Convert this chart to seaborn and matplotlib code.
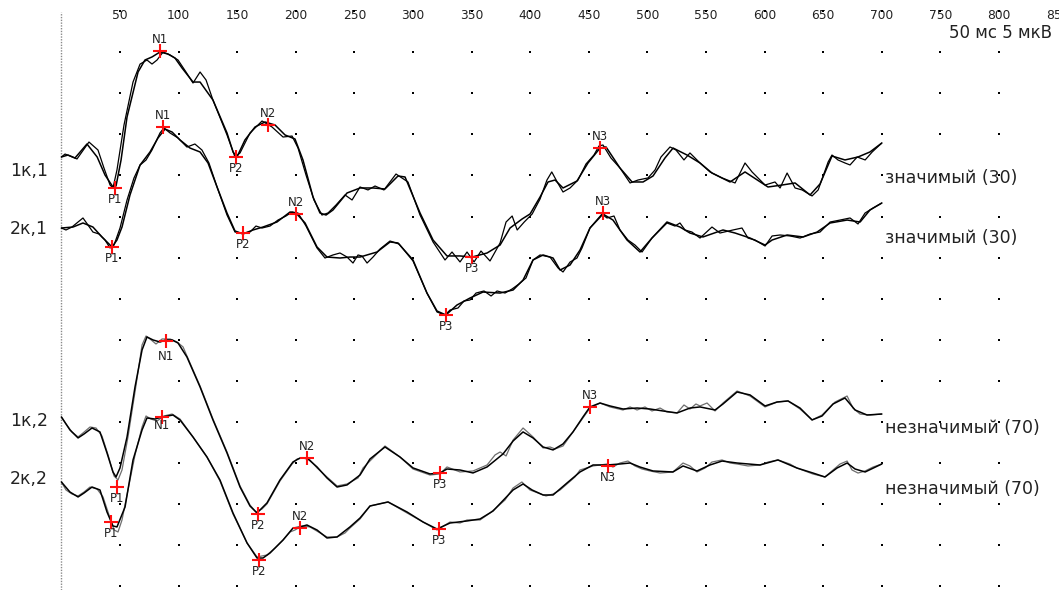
import numpy as np
import matplotlib
matplotlib.use("Agg")
import matplotlib.pyplot as plt
import seaborn as sns

# ---------------------------------------------------------------
# Averaged evoked potentials, time in ms, amplitude in µV
# (negativity plotted upwards). Each channel has two overlaid
# averages: a smoothed one ("a") and a raw one ("b").
# ---------------------------------------------------------------
ch_1k1_a = [(0, 0), (5.6, -0.24), (11.6, 0.12), (21.8, -1.58), (30.5, 0), (37.2, 2.19), (44.0, 3.65),
            (46.6, 3.53), (50.9, 0.36), (56.0, -4.87), (65.4, -10.34), (71.3, -11.8), (77.3, -12.17),
            (84.1, -12.77), (90.9, -12.53), (96.9, -12.04), (102.9, -10.83), (112.3, -9.12), (118.3, -9.12),
            (129.3, -6.93), (141.3, -2.92), (146.5, -0.6), (149.8, 0), (156.6, -2.07), (165.2, -3.65),
            (173.7, -4.26), (182.3, -3.89), (190.8, -2.68), (199.3, -2.19), (206.1, 0.36), (214.7, 4.87),
            (220.6, 6.81), (225.8, 7.06), (231.7, 6.45), (243.7, 4.38), (254.8, 3.77), (265.9, 3.77),
            (276.1, 3.89), (287.2, 2.31), (293.2, 2.43), (306.0, 6.81), (317.1, 10.10), (329.0, 12.04),
            (340.1, 12.04), (350.4, 12.17), (363.2, 11.68), (374.3, 10.71), (382.8, 8.64), (393.1, 7.54),
            (399.9, 6.93), (408.4, 4.87), (415.2, 3.04), (421.2, 2.8), (428.0, 3.77), (439.9, 2.92),
            (449.3, 0.73), (459.6, -1.09), (464.7, -1.22), (476.6, 1.34), (486.9, 3.04), (496.3, 3.04),
            (504.8, 2.31), (515.0, 0.12), (521.9, -1.09), (533.8, -0.24), (544.9, 0.73), (555.1, 1.95),
            (570.5, 3.04), (583.3, 1.82), (602.9, 3.65), (614.9, 3.41), (626.0, 3.16), (638.8, 4.62),
            (647.3, 3.28), (657.5, -0.12), (668.6, 0.36), (679.7, 0), (689.9, -0.61), (700, -1.70)]
ch_1k1_b = [(0, 0), (3.1, -0.36), (7.3, -0.12), (13.3, 0.24), (23.5, -1.82), (31.2, -0.85), (36.3, 1.34),
            (41.5, 3.41), (44.0, 3.77), (47.4, 1.58), (53.4, -3.89), (61.1, -9.12), (67.1, -11.3),
            (73.0, -11.8), (77.3, -11.31), (81.6, -11.8), (86.7, -12.77), (92.7, -12.41), (99.5, -11.8),
            (106.3, -10.34), (112.3, -9.0), (118.3, -10.34), (123.4, -9.37), (129.3, -6.93), (141.3, -2.68),
            (148.1, 0), (152.4, -0.49), (160.9, -2.92), (171.2, -4.38), (179.7, -3.65), (189.1, -2.43),
            (196.8, -2.55), (201.9, -1.09), (208.7, 2.19), (215.5, 5.23), (222.3, 7.06), (227.5, 6.81),
            (234.3, 5.84), (242.0, 4.62), (248.0, 5.23), (254.8, 3.65), (261.6, 4.01), (267.6, 3.53),
            (275.2, 4.01), (285.5, 2.07), (295.7, 3.04), (306.0, 7.06), (317.1, 10.34), (327.3, 12.53),
            (333.3, 11.56), (340.1, 12.77), (346.1, 11.56), (352.1, 12.77), (358.0, 11.44), (365.7, 12.65),
            (374.3, 10.46), (379.4, 7.91), (384.6, 7.18), (388.9, 8.88), (394.9, 7.91), (401.7, 6.93),
            (408.4, 5.11), (414.3, 2.8), (418.4, 1.82), (423.5, 3.16), (428.0, 4.26), (434.0, 3.77),
            (440.8, 2.8), (447.6, 0.85), (454.4, -0.24), (458.7, -1.34), (462.1, -1.46), (468.9, 0.12),
            (476.6, 1.34), (485.2, 3.16), (492.0, 2.8), (500.5, 2.55), (506.5, 1.58), (511.6, 0),
            (519.3, -1.22), (524.4, -0.85), (531.2, 0.36), (536.3, -0.49), (544.9, 0.73), (553.4, 1.82),
            (563.7, 2.55), (574.8, 3.16), (583.3, 0.73), (589.3, 1.82), (600.4, 3.41), (608.9, 3.04),
            (613.2, 3.77), (619.2, 1.95), (626.0, 3.77), (632.0, 4.01), (640.5, 4.74), (645.7, 4.01),
            (654.2, 0.61), (657.5, -0.24), (662.6, 0.36), (668.6, 0.73), (672.9, 0.97), (679.0, 0),
            (685.8, 0.36), (691.8, -0.61), (700, -1.70)]

ch_2k1_a = [(0, 0), (9.9, -0.12), (18.4, -0.61), (26.9, -0.12), (34.6, 1.09), (43.2, 2.31), (47.4, 1.46),
            (51.7, -0.12), (58.5, -4.01), (67.1, -7.66), (75.6, -9.25), (82.4, -10.95), (88.4, -12.04),
            (94.4, -11.68), (101.2, -10.71), (109.7, -9.73), (118.3, -9.25), (125.1, -7.91), (132.8, -4.99),
            (141.3, -1.82), (148.1, 0.36), (154.9, 0.73), (163.5, 0.24), (172.0, -0.12), (183.9, -0.73),
            (195.1, -1.95), (200.2, -1.82), (207.9, -0.61), (218.1, 2.31), (226.6, 3.53), (237.7, 3.65),
            (246.2, 3.53), (254.8, 3.53), (269.3, 2.92), (280.4, 1.70), (287.2, 1.82), (300.0, 3.89),
            (311.9, 7.91), (320.5, 10.10), (328.1, 10.58), (337.5, 9.37), (348.6, 8.52), (359.7, 7.79),
            (374.3, 7.91), (385.4, 7.54), (393.9, 6.33), (402.4, 3.89), (411.0, 3.28), (419.5, 3.65),
            (425.5, 5.11), (434.0, 4.50), (442.5, 2.68), (451.0, 0), (462.1, -1.70), (470.6, -0.97),
            (482.6, 1.46), (493.7, 2.92), (503.9, 1.22), (516.7, -0.73), (527.8, -0.12), (536.3, 0.61),
            (547.4, 1.09), (564.5, 0.24), (574.8, 0.61), (587.6, 1.22), (600.4, 2.07), (606.4, 1.46),
            (619.2, 0.85), (632.9, 1.09), (644.8, 0.49), (655.9, -0.61), (670.4, -0.97), (681.5, -0.73),
            (689.9, -2.19), (700, -3.04)]
ch_2k1_b = [(0, 0), (3.9, 0.24), (9.0, -0.12), (14.2, -0.73), (18.4, -1.22), (22.7, -0.36), (26.9, 0.49),
            (32.1, 0.73), (37.2, 1.46), (41.5, 2.43), (44.9, 2.07), (50.0, 0), (56.0, -3.41), (61.9, -6.08),
            (67.1, -7.66), (72.2, -8.27), (77.3, -9.49), (84.1, -11.56), (87.5, -12.17), (92.7, -11.56),
            (99.5, -10.95), (107.1, -9.85), (113.9, -10.22), (119.9, -9.49), (125.9, -7.91), (132.8, -4.99),
            (141.3, -1.58), (148.1, 0.49), (154.9, 0.61), (160.9, 0.49), (166.0, -0.24), (171.2, 0),
            (178.0, -0.24), (184.8, -0.97), (191.6, -1.46), (196.8, -1.95), (201.9, -1.82), (208.7, -0.24),
            (218.1, 2.43), (224.9, 3.65), (231.7, 3.28), (237.7, 3.04), (243.7, 3.53), (248.8, 4.26),
            (253.1, 3.28), (256.5, 3.41), (260.8, 4.26), (265.9, 3.53), (271.9, 2.55), (280.4, 1.58),
            (288.1, 1.95), (300.0, 4.01), (311.9, 7.91), (320.5, 10.22), (327.3, 10.58), (331.6, 9.98),
            (338.4, 9.73), (343.5, 8.88), (348.6, 8.76), (353.8, 7.91), (360.6, 7.66), (366.6, 8.27),
            (371.7, 7.66), (378.5, 7.91), (384.5, 7.42), (390.4, 6.81), (396.4, 6.08), (402.4, 3.89),
            (408.4, 3.28), (416.9, 3.53), (423.8, 4.87), (428.0, 5.35), (434.0, 4.14), (439.9, 3.65),
            (444.2, 2.43), (451.0, 0), (461.2, -1.70), (465.5, -1.22), (471.5, -1.46), (476.6, 0.24),
            (483.4, 1.46), (489.4, 2.07), (495.4, 2.92), (503.9, 1.22), (516.7, -0.61), (523.5, -0.24),
            (527.8, -0.61), (532.1, 0.24), (538.0, 0.49), (544.9, 1.22), (555.1, -0.12), (561.9, 0.61),
            (573.0, 0.24), (580.7, 0), (585.8, 1.22), (591.8, 1.46), (600.4, 2.19), (606.4, 0.97),
            (613.2, 0.85), (621.8, 0.97), (630.3, 1.22), (638.8, 0.73), (647.3, 0.49), (655.9, -0.73),
            (664.4, -0.97), (672.9, -1.22), (679.7, -0.49), (685.7, -1.82), (692.5, -2.43), (700, -3.04)]

ch_1k2_a = [(0, 0), (7.3, 1.58), (14.2, 2.55), (19.3, 2.07), (26.1, 1.34), (32.9, 1.82), (38.9, 4.38),
            (44.0, 6.69), (46.6, 7.30), (50.0, 6.20), (56.0, 2.43), (62.8, -3.65), (68.8, -8.15),
            (73.0, -9.73), (78.2, -9.37), (84.1, -9.12), (89.2, -9.37), (94.4, -9.37), (99.5, -9.0),
            (107.1, -7.30), (118.3, -3.65), (129.3, 0.36), (141.3, 4.38), (152.4, 8.52), (160.9, 10.83),
            (166.9, 11.68), (175.4, 10.46), (186.5, 7.66), (197.6, 5.47), (203.6, 4.99), (209.5, 4.99),
            (218.1, 6.08), (226.6, 7.42), (235.2, 8.52), (243.7, 8.27), (254.8, 7.06), (263.3, 5.11),
            (276.1, 3.65), (288.9, 4.87), (300.0, 6.20), (314.5, 6.93), (323.0, 6.81), (329.0, 6.33),
            (340.1, 6.45), (351.2, 6.81), (363.2, 6.08), (376.8, 4.50), (385.4, 2.92), (393.9, 1.82),
            (402.4, 2.55), (411.0, 3.65), (419.5, 4.01), (428.0, 3.28), (436.5, 1.82), (445.0, 0),
            (451.0, -1.22), (459.6, -1.70), (468.1, -1.34), (479.2, -0.97), (491.2, -1.09), (502.3, -0.97),
            (513.3, -0.73), (525.3, -0.49), (536.4, -1.09), (544.9, -1.22), (557.7, -0.85), (564.5, -1.58),
            (576.5, -3.04), (587.6, -2.68), (600.4, -1.34), (610.6, -1.82), (620.0, -1.95), (630.2, -1.09),
            (640.5, 0.36), (649.0, -0.12), (658.4, -1.58), (668.6, -2.31), (677.2, -0.85), (687.4, -0.24),
            (700, -0.36)]
ch_1k2_b = [(0, 0), (3.9, 0.85), (9.0, 1.82), (14.2, 2.43), (18.4, 1.95), (24.4, 1.22), (29.5, 1.34),
            (34.6, 2.31), (39.8, 4.62), (44.9, 7.18), (48.3, 7.66), (51.7, 6.45), (56.8, 2.43), (63.7, -3.89),
            (68.8, -8.76), (72.2, -9.85), (75.6, -9.49), (80.7, -8.88), (85.9, -9.49), (92.7, -9.49),
            (98.7, -9.12), (103.8, -8.52), (109.7, -6.57), (118.3, -3.77), (129.3, 0.24), (141.3, 4.26),
            (152.4, 8.39), (160.9, 10.71), (166.0, 11.56), (171.2, 11.19), (175.4, 10.58), (186.5, 7.79),
            (196.8, 5.72), (201.1, 5.11), (206.1, 4.99), (212.1, 5.23), (218.1, 6.20), (226.6, 7.30),
            (235.2, 8.39), (243.7, 8.15), (253.1, 7.42), (257.4, 6.20), (263.3, 5.35), (276.1, 3.53),
            (288.9, 4.87), (300.0, 6.33), (314.5, 7.06), (323.0, 6.93), (329.0, 6.08), (340.1, 6.69),
            (351.2, 6.57), (363.2, 5.84), (370.0, 4.62), (374.3, 4.26), (379.4, 4.74), (385.4, 2.80),
            (393.9, 1.34), (402.4, 2.43), (411.0, 3.77), (416.9, 3.65), (421.2, 3.89), (428.0, 3.53),
            (436.5, 1.82), (445.0, 0.12), (451.0, -1.09), (459.6, -1.70), (468.1, -1.22), (479.2, -0.85),
            (485.2, -1.22), (491.2, -0.85), (497.9, -1.22), (503.9, -0.73), (510.8, -1.09), (516.7, -0.61),
            (525.3, -0.49), (531.2, -1.46), (536.3, -0.97), (541.4, -1.58), (544.9, -1.34), (550.9, -1.70),
            (557.7, -0.73), (564.5, -1.70), (576.5, -3.16), (587.6, -2.55), (600.4, -1.22), (610.6, -1.82),
            (620.0, -1.95), (630.2, -0.97), (640.5, 0.36), (649.0, -0.24), (660.1, -1.82), (670.4, -2.55),
            (675.4, -1.09), (681.4, -0.36), (689.9, -0.24), (700, -0.36)]

ch_2k2_a = [(0, 0), (7.3, 1.22), (14.2, 1.82), (19.3, 1.34), (26.1, 0.61), (32.9, 0.97), (38.9, 3.65),
            (44.0, 5.35), (47.4, 5.47), (54.3, 3.04), (61.1, -2.68), (68.8, -6.33), (73.0, -7.79),
            (79.9, -7.66), (85.9, -7.91), (95.2, -8.15), (101.2, -7.54), (112.3, -5.47), (124.2, -3.04),
            (135.3, -0.24), (146.4, 3.77), (158.4, 7.42), (166.9, 9.25), (172.0, 9.25), (178.0, 8.64),
            (189.1, 7.06), (197.6, 5.60), (203.6, 5.47), (209.5, 5.23), (218.1, 5.84), (226.6, 6.81),
            (235.2, 6.69), (246.2, 5.47), (254.8, 4.38), (263.3, 2.92), (278.7, 2.43), (294.9, 3.65),
            (308.6, 4.87), (320.5, 5.72), (331.6, 4.99), (346.1, 4.74), (357.2, 4.50), (368.3, 3.53),
            (385.4, 0.97), (393.9, 0.24), (401.6, 0.97), (411.0, 1.58), (419.5, 1.58), (431.4, 0.12),
            (442.5, -1.22), (453.6, -2.07), (465.6, -2.07), (476.6, -2.19), (485.2, -2.31), (493.7, -1.82),
            (504.8, -1.34), (521.8, -1.22), (530.4, -1.95), (542.3, -1.34), (553.4, -2.07), (563.7, -2.55),
            (576.5, -2.31), (596.1, -2.07), (611.4, -2.68), (627.6, -1.70), (641.3, -1.09), (651.5, -0.61),
            (661.8, -1.70), (670.4, -2.31), (677.2, -1.58), (685.8, -1.22), (700, -2.19)]
ch_2k2_b = [(0, 0), (3.9, 0.97), (9.0, 1.46), (14.2, 1.70), (19.3, 1.22), (24.4, 0.61), (30.4, 0.85),
            (35.5, 1.82), (40.6, 4.01), (44.9, 5.84), (48.3, 6.08), (51.7, 4.62), (56.8, 0.97), (62.8, -3.28),
            (68.8, -6.69), (72.2, -8.03), (76.4, -7.66), (81.6, -7.42), (87.5, -8.03), (94.4, -8.27),
            (101.2, -7.66), (112.3, -5.47), (124.2, -3.04), (135.3, -0.12), (146.4, 3.89), (158.4, 7.42),
            (166.9, 9.12), (171.2, 9.0), (175.4, 8.88), (182.3, 8.03), (189.1, 7.06), (195.1, 6.08),
            (199.3, 5.84), (205.2, 5.35), (212.1, 5.47), (219.3, 6.08), (226.6, 6.69), (235.2, 6.69),
            (242.0, 6.20), (246.2, 5.60), (254.8, 4.50), (263.3, 2.92), (278.7, 2.43), (294.9, 3.77),
            (308.6, 4.87), (320.5, 5.84), (331.6, 4.87), (340.1, 4.99), (346.1, 4.62), (357.2, 4.62),
            (365.7, 3.77), (370.8, 3.16), (378.5, 2.19), (385.4, 0.73), (392.9, 0), (399.8, 0.97),
            (406.7, 1.34), (413.5, 1.70), (419.5, 1.46), (425.5, 0.97), (431.4, 0.24), (438.2, -0.61),
            (442.5, -1.46), (453.6, -1.95), (465.6, -2.19), (470.6, -1.82), (476.6, -2.31), (483.4, -2.55),
            (489.4, -1.95), (495.4, -1.58), (502.3, -1.34), (510.8, -1.09), (521.8, -1.22), (530.4, -2.31),
            (536.3, -1.95), (542.3, -1.22), (549.2, -1.70), (555.1, -2.43), (563.7, -2.68), (570.5, -2.31),
            (576.5, -2.19), (585.8, -1.95), (596.1, -2.07), (602.9, -2.43), (611.4, -2.68), (621.6, -2.19),
            (627.6, -1.70), (641.3, -0.97), (651.5, -0.61), (658.4, -1.46), (664.4, -2.19), (670.4, -2.55),
            (674.6, -1.46), (679.7, -1.09), (685.8, -1.34), (692.5, -1.82), (700, -2.19)]

# Marked components: (name, latency ms, amplitude µV, label side)
peaks_1k1 = [("P1", 45.9, 3.77, "below"), ("N1", 84.1, -12.9, "above"), ("P2", 149.0, 0.0, "below"),
             ("N2", 176.3, -3.89, "above"), ("P3", 350.4, 12.17, "below"), ("N3", 459.6, -1.09, "above")]
peaks_2k1 = [("P1", 43.2, 2.31, "below"), ("N1", 86.9, -12.23, "above"), ("P2", 154.9, 0.61, "below"),
             ("N2", 200.2, -1.70, "above"), ("P3", 328.2, 10.58, "below"), ("N3", 462.1, -1.82, "above")]
peaks_1k2 = [("P1", 47.4, 8.52, "below"), ("N1", 89.2, -9.25, "below"), ("P2", 167.7, 11.80, "below"),
             ("N2", 209.5, 4.99, "above"), ("P3", 323.0, 6.81, "below"), ("N3", 451.0, -1.22, "above")]
peaks_2k2 = [("P1", 42.3, 4.87, "below"), ("N1", 85.8, -7.91, "below"), ("P2", 168.6, 9.49, "below"),
             ("N2", 203.6, 5.60, "above"), ("P3", 322.2, 5.72, "below"), ("N3", 466.4, -1.95, "below")]

channel_names = ["1к,1", "2к,1", "1к,2", "2к,2"]
verdicts = ["значимый (30)", "значимый (30)", "незначимый (70)", "незначимый (70)"]
tick_ms = list(range(50, 851, 50))
scale_text = "50 мс 5 мкВ"

# ---------------------------------------------------------------
# Layout: vertical offsets of each channel (µV, grid rows every 5 µV)
# ---------------------------------------------------------------
offsets = [17.76, 26.40, 49.39, 57.30]
name_y = [19.46, 26.52, 49.88, 56.93]
verdict_y = [20.32, 27.62, 50.73, 58.15]
raw_colors = ["black", "black", "#6e6e6e", "#6e6e6e"]

sns.set_style("white")
plt.rcParams["font.family"] = ["DejaVu Sans"]

fig = plt.figure(figsize=(10.59, 5.90), dpi=100)
ax = fig.add_axes([0, 0, 1, 1])
ax.set_xlim(-52.4, 851.2)
ax.set_ylim(70.44, -1.34)
for s in ax.spines.values():
    s.set_visible(False)

# dotted grid: one dot per 50 ms x 5 µV
gx, gy = np.meshgrid(np.arange(50, 801, 50), np.arange(0, 71, 5))
ax.scatter(gx.ravel(), gy.ravel(), marker="s", s=2.0, color="black", linewidths=0, zorder=1)

# stimulus onset line
ax.axvline(0, ymin=0, ymax=1 - 12 / 590, color="#8a8a8a", lw=1.0, ls=(0, (1, 1)), zorder=1)

channels = [(ch_1k1_a, ch_1k1_b, peaks_1k1), (ch_2k1_a, ch_2k1_b, peaks_2k1),
            (ch_1k2_a, ch_1k2_b, peaks_1k2), (ch_2k2_a, ch_2k2_b, peaks_2k2)]

label_shift = {"above": -8.6, "below": 8.0}
special_shift = {(2, "N1"): 11.0, (3, "N1"): 5.8, (3, "N3"): 8.0}

for i, (smooth, raw, peaks) in enumerate(channels):
    off = offsets[i]
    ts, vs = np.array(raw).T
    sns.lineplot(x=ts, y=vs + off, ax=ax, color=raw_colors[i], linewidth=0.9,
                 sort=False, estimator=None, zorder=2)
    ts, vs = np.array(smooth).T
    sns.lineplot(x=ts, y=vs + off, ax=ax, color="black", linewidth=1.1,
                 sort=False, estimator=None, zorder=3)
    for name, lat, amp, side in peaks:
        ax.plot(lat, amp + off, marker="+", color="#ff1010", ms=10, mew=1.5, zorder=5)
        dy = special_shift.get((i, name), label_shift[side])
        ax.annotate(name, (lat, amp + off), xytext=(0, -dy), textcoords="offset points",
                    ha="center", va="center", fontsize=8.5, color="#222222", zorder=6)
    ax.text(-44, name_y[i], channel_names[i], ha="left", va="center", fontsize=12.5, color="#222222")
    ax.text(703.0, verdict_y[i], verdicts[i], ha="left", va="center", fontsize=12.5, color="#222222")

ax.set_xticks(tick_ms)
ax.set_xticklabels([str(t) for t in tick_ms])
ax.set_yticks([])
ax.tick_params(axis="x", bottom=False, labelbottom=False, top=True, labeltop=True,
               length=0, pad=-15.5, labelsize=8.8, labelcolor="#222222")

fig.text(1052 / 1059, 1 - 33 / 590, scale_text, ha="right", va="center", fontsize=12, color="#222222")

fig.savefig("out.png", dpi=100)
